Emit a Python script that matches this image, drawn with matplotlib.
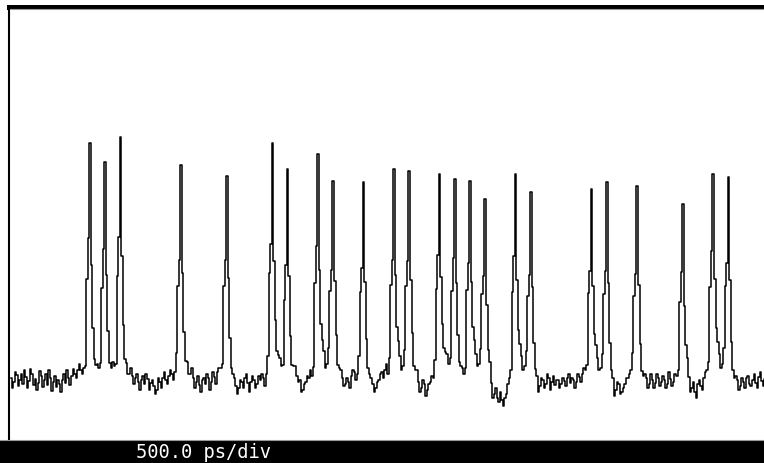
import numpy as np
import matplotlib
matplotlib.use("Agg")
import matplotlib.pyplot as plt
from matplotlib.patches import Rectangle
from matplotlib.lines import Line2D

# ----------------------------------------------------------
# Data (time in ps, level in screen units)
# ----------------------------------------------------------
SAMPLE_PS = 10          # one trace sample every 10 ps
FIRST_PULSE_PS = 520    # first pulse centre
BIT_PS = 100            # 10 Gb/s bit slot

# noisy base level at t = 0, 20, 40, ... ps
level_even = [
    62, 58, 65, 60, 56, 63, 59, 66, 61, 57,
    64, 60, 55, 62, 58, 53, 56, 60, 57, 62,
    64, 66, 70, 70, 72, 68, 64, 70, 68, 72,
    66, 62, 70, 66, 74, 68, 64, 72, 70, 66,
    64, 62, 58, 60, 56, 61, 57, 54, 50, 58,
    62, 60, 64, 66, 68, 70, 64, 70, 72, 66,
    62, 58, 55, 60, 56, 62, 58, 63, 68, 72,
    74, 64, 66, 60, 54, 52, 58, 62, 57, 58,
    60, 56, 60, 62, 66, 74, 64, 78, 78, 74,
    56, 62, 66, 68, 64, 60, 50, 58, 62, 64,
    68, 64, 76, 82, 76, 72, 66, 70, 66, 62,
    56, 58, 64, 68, 66, 70, 62, 66, 60, 56,
    52, 60, 68, 70, 66, 72, 64, 76, 78, 74,
    72, 64, 70, 64, 58, 52, 56, 50, 58, 62,
    70, 64, 80, 82, 76, 70, 64, 70, 68, 66,
    72, 64, 78, 80, 76, 74, 62, 58, 52, 46,
    42, 48, 34, 46, 62, 68, 66, 74, 78, 74,
    70, 64, 64, 58, 54, 60, 56, 62, 58, 55,
    60, 56, 59, 62, 57, 60, 58, 63, 66, 70,
    72, 64, 72, 76, 72, 68, 64, 62, 56, 50,
    56, 48, 56, 62, 70, 68, 64, 62, 58, 62,
    56, 60, 57, 62, 58, 60, 56, 61, 58, 64,
    68, 62, 64, 58, 52, 48, 56, 54, 62, 70,
    72, 64, 76, 80, 76, 74, 64, 62, 56, 60,
    54, 58, 62, 56, 60, 57, 63, 59, 61,
]

# noisy base level at t = 10, 30, 50, ... ps
level_odd = [
    52, 68, 54, 66, 70, 52, 71, 55, 50, 69,
    53, 66, 70, 49, 64, 60, 48, 66, 70, 55,
    71, 62, 76, 66, 60, 74, 70, 62, 76, 64,
    72, 68, 60, 78, 62, 72, 76, 62, 66, 72,
    56, 66, 50, 64, 66, 50, 60, 46, 62, 52,
    68, 56, 70, 60, 74, 64, 72, 62, 66, 72,
    52, 64, 48, 62, 66, 50, 68, 56, 72, 64,
    70, 72, 56, 62, 46, 60, 52, 66, 48, 64,
    52, 64, 66, 54, 70, 68, 74, 70, 82, 62,
    60, 70, 58, 74, 58, 48, 56, 64, 70, 60,
    72, 70, 82, 72, 80, 64, 72, 60, 70, 54,
    62, 52, 70, 60, 72, 64, 70, 56, 62, 48,
    58, 66, 62, 76, 70, 66, 72, 82, 70, 78,
    66, 68, 58, 70, 48, 60, 44, 56, 64, 68,
    74, 72, 76, 86, 70, 74, 68, 62, 72, 60,
    70, 70, 84, 74, 80, 66, 54, 64, 42, 52,
    38, 40, 42, 56, 58, 74, 70, 80, 70, 78,
    64, 70, 56, 48, 62, 52, 66, 50, 64, 60,
    52, 62, 54, 66, 62, 52, 66, 58, 72, 64,
    66, 70, 80, 70, 74, 62, 70, 54, 44, 58,
    46, 52, 62, 66, 76, 62, 70, 54, 66, 52,
    66, 52, 66, 54, 64, 52, 68, 54, 66, 60,
    72, 56, 68, 48, 58, 42, 60, 50, 68, 66,
    78, 70, 82, 72, 80, 68, 70, 54, 64, 50,
    62, 52, 64, 54, 66, 52, 68, 54,
]

# bit slots (after the first pulse) that carry a pulse, and their peak levels
pulse_slots = [0, 1, 2, 6, 9, 12, 13, 15, 16, 18, 20, 21,
               23, 24, 25, 26, 28, 29, 33, 34, 36, 39, 41, 42]
pulse_peak = [297, 278, 303, 275, 264, 297, 271, 286, 259, 258, 271, 269,
              266, 261, 259, 241, 266, 248, 251, 258, 254, 236, 266, 263]

# pulse shape, relative height at -3..+4 samples around the centre
pulse_shape = [0.06, 0.4, 0.55, 1.0, 0.45, 0.18, 0.08, 0.03]
PULSE_CENTRE = 3

# ----------------------------------------------------------
# Build trace
# ----------------------------------------------------------
base = np.empty(len(level_even) + len(level_odd))
base[0::2] = level_even
base[1::2] = level_odd
t_ps = np.arange(len(base)) * SAMPLE_PS

trace = base.copy()
for slot, peak in zip(pulse_slots, pulse_peak):
    k = (FIRST_PULSE_PS + slot * BIT_PS) // SAMPLE_PS
    amp = peak - base[k]
    for j, rel in enumerate(pulse_shape):
        idx = k + j - PULSE_CENTRE
        if 0 <= idx < len(trace):
            trace[idx] += amp * rel

# ----------------------------------------------------------
# Plot
# ----------------------------------------------------------
W, H = 764, 463
fig = plt.figure(figsize=(W / 100, H / 100), dpi=100)
fig.patch.set_facecolor("white")

ax = fig.add_axes([9 / W, 23 / H, (W - 9) / W, 433.5 / H])
ax.plot(t_ps, trace, color="black", lw=1.1, drawstyle="steps-mid")
ax.set_xlim(-13, 4954)
ax.set_ylim(0, 433.5)
ax.set_xticks([])
ax.set_yticks([])
ax.spines[["right", "bottom"]].set_visible(False)
ax.spines["top"].set_linewidth(3.6)
ax.spines["left"].set_linewidth(1.5)
ax.spines["top"].set_color("black")
ax.spines["left"].set_color("black")

# thin grey edge under the top band
fig.add_artist(Line2D([10 / W, 1], [(H - 9.3) / H] * 2, color="#9a9a9a", lw=0.8))

# status bar at the bottom
fig.add_artist(Rectangle((0, 0), 1, 23 / H, transform=fig.transFigure,
                         facecolor="black", edgecolor="none"))
fig.add_artist(Line2D([0, 1], [23.3 / H] * 2, color="#9a9a9a", lw=0.8))
fig.text(203 / W, 11 / H, "500.0 ps/div", color="white",
         family="DejaVu Sans Mono", fontsize=13.5, ha="center", va="center")

fig.savefig("out.png", dpi=100)
